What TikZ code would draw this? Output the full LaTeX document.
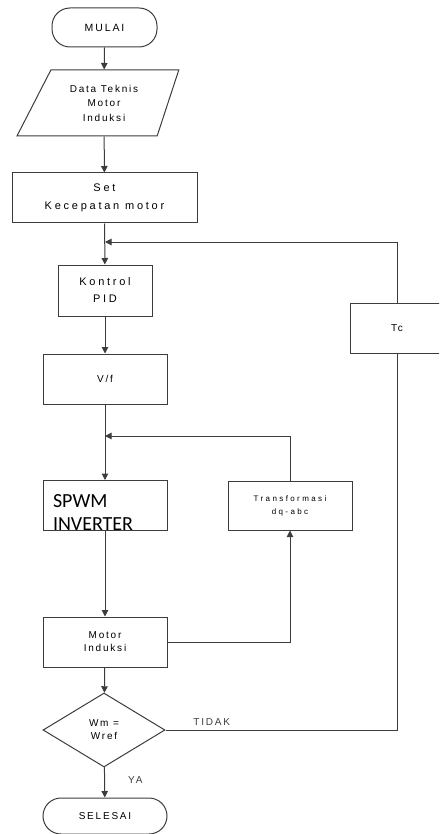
\documentclass[tikz,border=0pt]{standalone}
\usepackage{fontspec}
\setmainfont{Liberation Sans}
\newfontfamily\flowfont[LetterSpace=18]{Liberation Sans}
\newfontfamily\wideflowfont[LetterSpace=25]{Liberation Sans}
\newfontfamily\tinyflowfont[LetterSpace=30]{Liberation Sans}
\newfontfamily\inverterfont{Carlito}
\usetikzlibrary{shapes.geometric, arrows.meta, positioning}
\definecolor{LineGray}{RGB}{60, 60, 60}

\tikzset{
    proses/.style={rectangle, draw=LineGray, line width=1pt, minimum width=124pt,
                   minimum height=50pt, align=center, inner sep=0pt,
                   font=\flowfont\fontsize{10}{13}\selectfont},
    terminal/.style={proses, rounded corners=18pt},
    keputusan/.style={diamond, draw=LineGray, line width=1pt, aspect=1.65,
                      minimum width=122pt, minimum height=74pt, inner sep=0pt,
                      align=center, font=\flowfont\fontsize{10}{13}\selectfont},
    garis/.style={LineGray, line width=1pt},
    panah/.style={garis, -{Triangle[length=6.5pt, width=6.5pt]}},
    ket/.style={font=\flowfont\fontsize{10}{12}\selectfont, inner sep=0pt}
}

\begin{document}
\begin{tikzpicture}[x=1pt, y=-1pt]
    \useasboundingbox (0,0) rectangle (439,834);
    \clip (0,0) rectangle (439,834);

    % main column
    \node[terminal, minimum width=105pt, minimum height=39pt, font=\flowfont\fontsize{10.5}{13}\selectfont] (mulai) at (104.5, 27.5) {MULAI};
    \node[trapezium, trapezium left angle=59, trapezium right angle=111, trapezium stretches=true,
          draw=LineGray, line width=1pt, minimum width=162pt, minimum height=66pt, inner sep=0pt,
          align=center, font=\flowfont\fontsize{10}{14.5}\selectfont] (data) at (104, 103)
          {Data Teknis\\Motor\\Induksi};
    \node[proses, minimum width=185pt, font=\wideflowfont\fontsize{11}{18}\selectfont] (set) at (104.5, 198)
          {Set\\Kecepatan motor};
    \node[proses, minimum width=94pt, minimum height=51pt, font=\wideflowfont\fontsize{11}{17}\selectfont] (pid) at (105, 290.5)
          {Kontrol\\PID};
    \node[proses] (vf) at (105, 379) {V/f};
    \node[proses, minimum height=49pt, align=left, text width=104pt, inner xsep=10pt,
          font=\inverterfont\fontsize{20}{23}\selectfont] (spwm) at (105, 505.5)
          {\rule{0pt}{27pt}SPWM\\INVERTER};
    \node[proses] (motor) at (105, 642) {Motor\\Induksi};
    \node[keputusan] (cek) at (104, 730) {Wm =\\Wref};
    \node[terminal, minimum height=36pt] (selesai) at (105, 816) {SELESAI};

    % feedback blocks
    \node[proses, minimum height=49pt, font=\tinyflowfont\fontsize{8}{13}\selectfont] (trans) at (290, 505.5)
          {Transformasi\\dq-abc};
    \node[proses, minimum width=94pt] (tc) at (397, 328) {Tc};

    \coordinate (j1) at (105, 242);
    \coordinate (j2) at (105, 436);

    \draw[panah] (mulai) -- (data);
    \draw[panah] (data) -- (set);
    \draw[panah] (set) -- (pid);
    \draw[panah] (pid) -- (vf);
    \draw[panah] (vf) -- (spwm);
    \draw[panah] (spwm) -- (motor);
    \draw[panah] (motor) -- (cek);
    \draw[panah] (cek) -- node[ket, right=23pt, pos=0.42] (ya) {YA} (selesai);

    \draw[panah] (motor.east) -| (trans.south);
    \draw[panah] (trans.north) |- (j2);
    \draw[garis] (cek.east) -| node[ket, above=4pt, pos=0.1] (tidak) {TIDAK} (tc.south);
    \draw[panah] (tc.north) |- (j1);
\end{tikzpicture}
\end{document}
